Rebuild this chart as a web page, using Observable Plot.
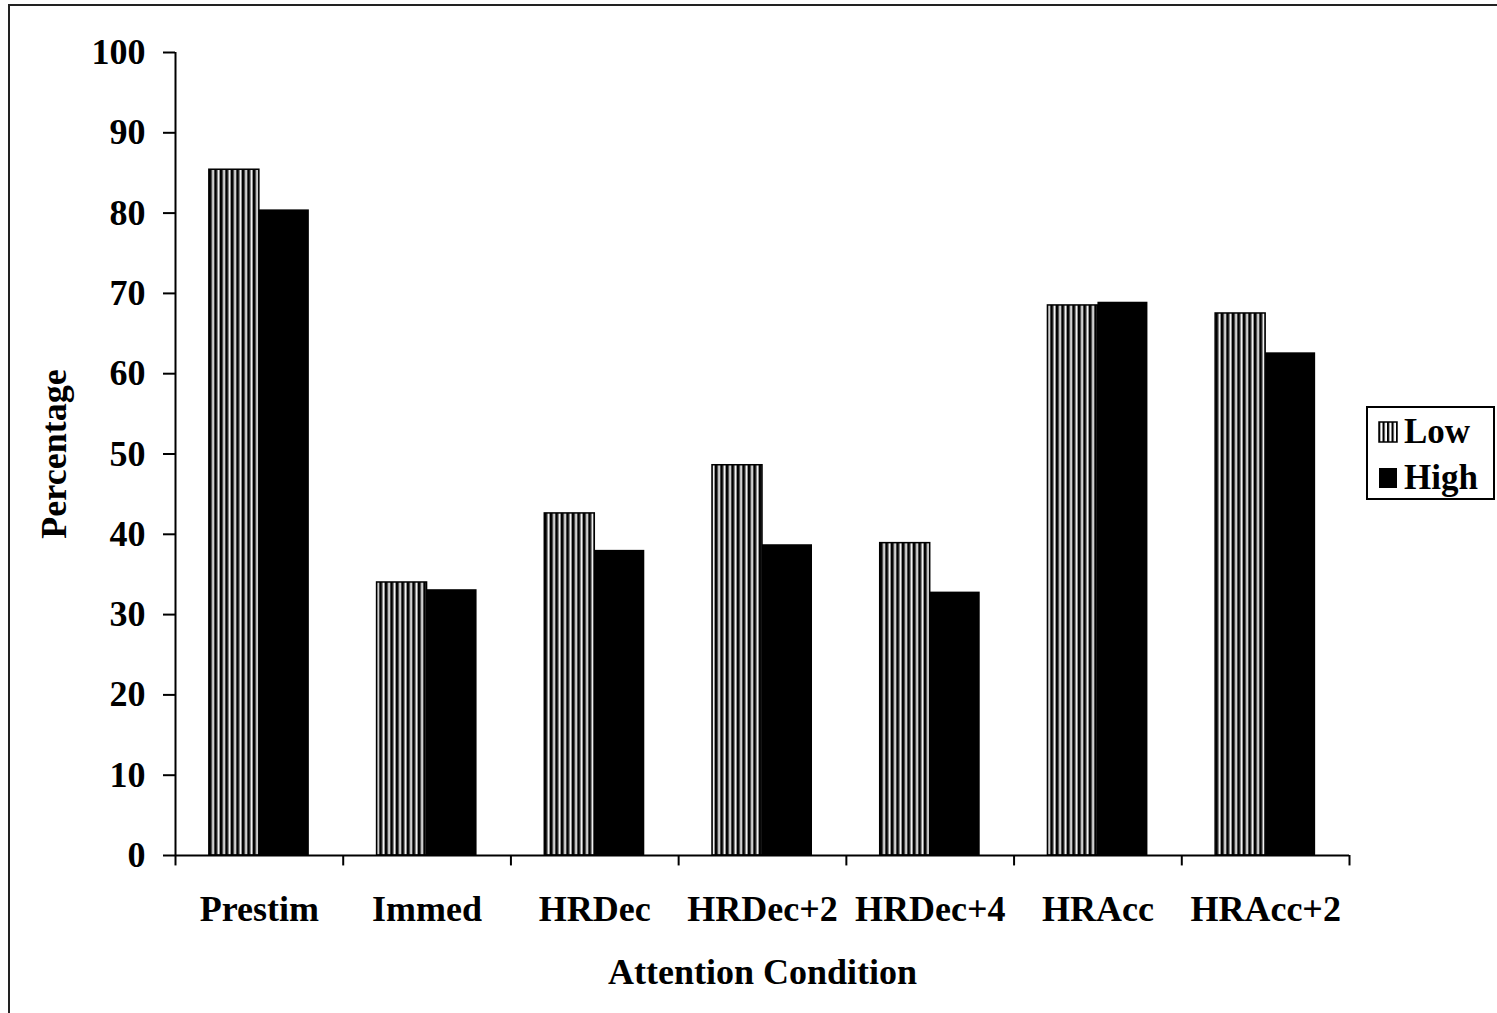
<!DOCTYPE html>
<html>
<head>
<meta charset="utf-8">
<script src="https://cdn.jsdelivr.net/npm/d3@7"></script>
<script src="https://cdn.jsdelivr.net/npm/@observablehq/plot@0.6"></script>
<style>
  html, body { margin: 0; padding: 0; background: #fff; }
  #wrap { position: relative; width: 1497px; height: 1013px; overflow: hidden; }
  #border { position: absolute; left: 8px; top: 4px; width: 1500px; height: 1020px; border: 2px solid #222; box-sizing: border-box; }
  #legend { position: absolute; left: 1366px; top: 406px; width: 129px; height: 94px; border: 2px solid #000; box-sizing: border-box;
            font-family: "Liberation Serif", "Times New Roman", serif; font-weight: bold; font-size: 35px; background: #fff; }
  .item { position: absolute; left: 10px; display: flex; align-items: center; }
</style>
</head>
<body>
<div id="wrap">
  <div id="border"></div>
  <div id="chart"></div>
  <div id="legend"></div>
</div>
<script>
const categories = ["Prestim", "Immed", "HRDec", "HRDec+2", "HRDec+4", "HRAcc", "HRAcc+2"];
const lowValues  = [85.4, 34.0, 42.6, 48.6, 38.9, 68.5, 67.5];
const highValues = [80.4, 33.1, 38.0, 38.7, 32.8, 68.9, 62.6];
const yTicks = [0, 10, 20, 30, 40, 50, 60, 70, 80, 90, 100];
const seriesNames = ["Low", "High"];

const lowData = categories.map((c, i) => ({category: c, value: lowValues[i]}));
const highData = categories.map((c, i) => ({category: c, value: highValues[i]}));

const W = 1497, H = 1013;
const mL = 175, mR = 148, mT = 52, mB = 158;
const step = (W - mL - mR) / categories.length;
const barW = 50;
const outer = (step - 2 * barW) / 2;

const font = "'Liberation Serif', 'Times New Roman', serif";

const chart = Plot.plot({
  width: W, height: H,
  marginLeft: mL, marginRight: mR, marginTop: mT, marginBottom: mB,
  style: {fontFamily: font, fontWeight: "bold", fontSize: "36px", color: "#000", background: "transparent", overflow: "visible"},
  x: {domain: categories, padding: 0, round: false},
  y: {domain: [0, 100]},
  marks: [
    Plot.barY(lowData, {x: "category", y: "value", fill: "url(#stripes)", stroke: "#000", strokeWidth: 1.5,
      insetLeft: outer, insetRight: outer + barW}),
    Plot.barY(highData, {x: "category", y: "value", fill: "#000",
      insetLeft: outer + barW, insetRight: outer}),
    Plot.axisY({ticks: yTicks, tickSize: 12, tickPadding: 18, tickFormat: d => d, fontSize: 36, strokeWidth: 2,
      label: "Percentage", labelAnchor: "center", labelArrow: "none", labelOffset: 135}),
    Plot.ruleX([0], {x: () => categories[0], dx: -step / 2, y1: 0, y2: 100, stroke: "#000", strokeWidth: 2}),
    Plot.axisX({tickSize: 0, tickPadding: 40, fontSize: 36,
      label: "Attention Condition", labelAnchor: "center", labelArrow: "none", labelOffset: 128}),
    Plot.ruleX(categories, {x: d => d, dx: -step / 2, y1: 0, y2: -1.3, stroke: "#000", strokeWidth: 2}),
    Plot.ruleX([categories[categories.length - 1]], {x: d => d, dx: step / 2, y1: 0, y2: -1.3, stroke: "#000", strokeWidth: 2}),
    Plot.ruleY([0], {stroke: "#000", strokeWidth: 2})
  ]
});

// stripe pattern for the "Low" series
const defs = document.createElementNS("http://www.w3.org/2000/svg", "defs");
defs.innerHTML = `
  <pattern id="stripes" patternUnits="userSpaceOnUse" width="5.5" height="10">
    <rect width="5.5" height="10" fill="#fff"/>
    <rect x="0" width="2.6" height="10" fill="#000"/>
    <rect x="2.6" width="0.9" height="10" fill="#888"/>
    <rect x="4.6" width="0.9" height="10" fill="#888"/>
  </pattern>`;
chart.insertBefore(defs, chart.firstChild);
document.getElementById("chart").appendChild(chart);

// legend
const legend = document.getElementById("legend");
seriesNames.forEach((name, i) => {
  const item = document.createElement("div");
  item.className = "item";
  item.style.top = (i === 0 ? 4 : 50) + "px";
  const sw = document.createElementNS("http://www.w3.org/2000/svg", "svg");
  sw.setAttribute("width", 20); sw.setAttribute("height", 22);
  sw.style.marginRight = "6px";
  sw.innerHTML = i === 0
    ? `<defs><pattern id="lgs" patternUnits="userSpaceOnUse" width="4.5" height="10"><rect width="4.5" height="10" fill="#fff"/><rect width="2.2" height="10" fill="#000"/></pattern></defs><rect x="1" y="1" width="18" height="20" fill="url(#lgs)" stroke="#000" stroke-width="1.5"/>`
    : `<rect x="1" y="1" width="18" height="20" fill="#000"/>`;
  item.appendChild(sw);
  const t = document.createElement("span");
  t.textContent = name;
  item.appendChild(t);
  legend.appendChild(item);
});
</script>
</body>
</html>
